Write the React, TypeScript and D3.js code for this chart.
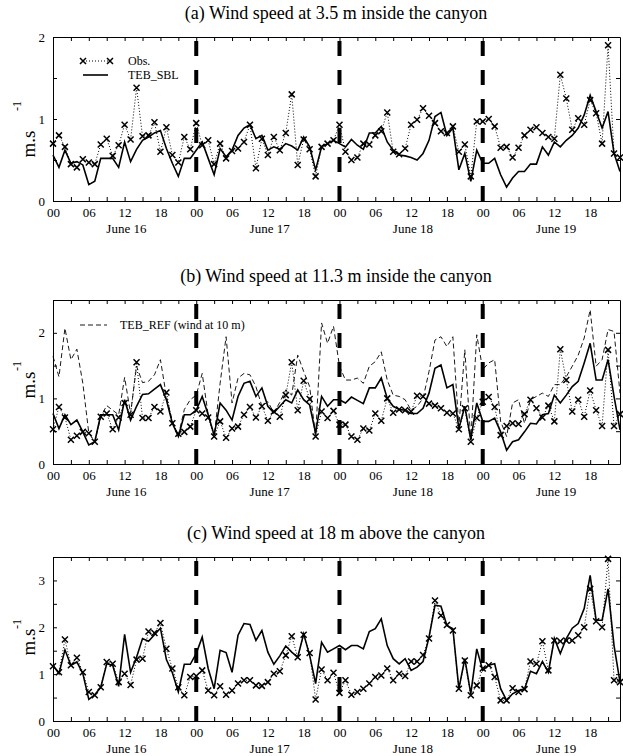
import React, { useEffect, useRef } from 'react';
import * as d3 from 'd3';

// hourly values, June 16 00h -> June 19 23h
const hours = d3.range(0, 96);
const dayLabels = ['June 16', 'June 17', 'June 18', 'June 19'];
const hourLabels = ['00', '06', '12', '18'];
const dayBreaks = [24, 48, 72];

// (a) 3.5 m inside the canyon
const obsA = [
  0.70, 0.80, 0.66, 0.45, 0.41, 0.51, 0.47, 0.45, 0.69, 0.76, 0.55, 0.68,
  0.93, 0.75, 1.38, 0.79, 0.80, 0.96, 0.60, 0.90, 0.56, 0.47, 0.78, 0.63,
  0.95, 0.68, 0.74, 0.45, 0.70, 0.52, 0.61, 0.64, 0.72, 0.93, 0.40, 0.76,
  0.56, 0.78, 0.62, 0.83, 1.30, 0.44, 0.75, 0.63, 0.30, 0.66, 0.70, 0.74,
  0.93, 0.60, 0.50, 0.53, 0.70, 0.69, 0.80, 0.85, 1.08, 0.60, 0.57, 0.64,
  0.93, 0.99, 1.13, 1.04, 0.95, 0.85, 0.83, 0.91, 0.60, 0.69, 0.30, 0.97,
  0.97, 1.00, 0.91, 0.65, 0.66, 0.53, 0.65, 0.80, 0.87, 0.90, 0.83, 0.78,
  0.76, 1.54, 1.25, 0.87, 1.01, 0.93, 1.23, 1.07, 0.70, 1.90, 0.58, 0.53,
];
const sblA = [
  0.56, 0.41, 0.62, 0.46, 0.48, 0.44, 0.20, 0.24, 0.52, 0.52, 0.52, 0.41,
  0.72, 0.48, 0.63, 0.74, 0.78, 0.83, 0.86, 0.64, 0.46, 0.30, 0.52, 0.52,
  0.62, 0.72, 0.52, 0.32, 0.64, 0.54, 0.62, 0.80, 0.89, 0.93, 0.76, 0.80,
  0.62, 0.66, 0.63, 0.70, 0.67, 0.62, 0.78, 0.66, 0.38, 0.66, 0.70, 0.74,
  0.70, 0.66, 0.75, 0.68, 0.63, 0.83, 0.83, 0.91, 0.72, 0.62, 0.56, 0.55,
  0.53, 0.50, 0.58, 0.74, 1.03, 1.08, 0.80, 0.89, 0.38, 0.58, 0.24, 0.62,
  0.46, 0.46, 0.52, 0.32, 0.17, 0.28, 0.36, 0.36, 0.45, 0.45, 0.66, 0.56,
  0.72, 0.66, 0.74, 0.80, 0.89, 1.05, 1.29, 1.09, 0.89, 1.09, 0.58, 0.36,
];

// (b) 11.3 m inside the canyon
const obsB = [
  0.53, 0.87, 0.71, 0.37, 0.43, 0.49, 0.47, 0.34, 0.72, 0.77, 0.53, 0.71,
  0.93, 0.75, 1.55, 0.70, 0.70, 0.87, 0.80, 1.09, 0.62, 0.46, 0.49, 0.57,
  0.82, 0.77, 0.71, 0.42, 0.65, 0.40, 0.54, 0.57, 0.75, 0.87, 0.71, 0.88,
  0.66, 0.80, 0.72, 1.05, 1.55, 0.82, 1.27, 0.99, 0.42, 0.80, 0.70, 0.81,
  0.60, 0.60, 0.42, 0.37, 0.54, 0.51, 0.77, 0.66, 1.00, 0.78, 0.83, 0.82,
  0.80, 1.04, 1.03, 0.92, 0.89, 0.85, 0.78, 0.77, 0.53, 0.85, 0.34, 0.70,
  0.95, 1.02, 0.87, 0.44, 0.58, 0.62, 0.61, 0.76, 0.98, 0.85, 0.71, 0.89,
  0.65, 1.75, 1.28, 0.80, 0.98, 0.72, 1.12, 0.82, 0.58, 1.74, 0.58, 0.76,
];
const sblB = [
  0.77, 0.54, 0.75, 0.60, 0.67, 0.49, 0.29, 0.34, 0.75, 0.75, 0.75, 0.52,
  0.98, 0.67, 0.88, 1.06, 1.07, 1.14, 1.21, 0.98, 0.62, 0.42, 0.75, 0.75,
  0.82, 1.03, 0.75, 0.44, 0.93, 0.82, 0.67, 1.03, 1.23, 1.26, 1.03, 1.16,
  0.88, 0.78, 0.88, 0.98, 0.93, 1.13, 0.98, 0.90, 0.47, 1.03, 0.88, 0.98,
  0.98, 0.93, 1.02, 0.97, 0.92, 1.16, 1.16, 1.31, 1.00, 0.88, 0.83, 0.82,
  0.77, 0.77, 0.85, 1.08, 1.46, 1.51, 1.16, 1.21, 0.54, 0.88, 0.37, 0.93,
  0.65, 0.65, 0.70, 0.49, 0.21, 0.34, 0.37, 0.49, 0.62, 0.61, 0.75, 0.77,
  1.05, 0.93, 1.05, 1.18, 1.26, 1.54, 1.84, 1.28, 1.28, 1.59, 1.03, 0.52,
];
const refB = [
  1.64, 1.33, 2.07, 1.59, 1.75, 1.23, 0.47, 0.34, 0.72, 0.89, 0.82, 0.75,
  1.32, 0.77, 1.49, 1.24, 1.26, 1.36, 1.59, 1.03, 0.65, 0.43, 0.83, 0.98,
  1.05, 1.38, 0.75, 0.42, 1.23, 1.94, 0.93, 1.31, 1.38, 1.36, 1.18, 0.88,
  0.95, 0.78, 0.94, 1.13, 1.05, 1.66, 1.41, 1.18, 0.42, 2.15, 1.84, 2.10,
  1.49, 1.28, 1.28, 1.31, 1.23, 1.49, 1.56, 1.71, 1.28, 1.05, 1.03, 0.98,
  0.82, 0.88, 1.00, 1.41, 1.89, 1.94, 1.79, 1.94, 0.57, 1.74, 0.37, 1.97,
  1.44, 1.54, 1.59, 0.65, 0.42, 0.93, 0.98, 0.62, 0.98, 1.03, 1.08, 1.03,
  1.21, 1.21, 1.33, 1.49, 1.66, 1.92, 2.35, 1.49, 1.59, 2.05, 2.02, 1.08,
];

// (c) 18 m above the canyon
const obsC = [
  1.17, 1.04, 1.74, 1.19, 1.35, 1.04, 0.62, 0.55, 0.72, 1.26, 1.22, 0.83,
  1.01, 0.77, 1.31, 1.33, 1.91, 1.88, 2.09, 1.54, 1.12, 0.72, 0.55, 0.94,
  0.96, 1.08, 0.65, 0.55, 0.74, 0.56, 0.65, 0.80, 0.87, 0.87, 0.76, 0.75,
  0.83, 1.01, 1.06, 1.40, 1.81, 1.36, 1.84, 1.45, 0.46, 1.10, 0.87, 1.03,
  0.60, 0.87, 0.56, 0.62, 0.69, 0.80, 0.94, 0.97, 1.12, 0.87, 1.01, 0.96,
  1.27, 1.27, 1.41, 1.76, 2.57, 2.25, 2.05, 1.93, 0.69, 1.29, 0.55, 0.76,
  1.12, 1.19, 0.94, 0.44, 0.44, 0.70, 0.62, 0.68, 1.27, 1.22, 1.70, 1.08,
  1.72, 1.70, 1.72, 1.72, 1.83, 2.00, 2.82, 2.13, 2.00, 3.46, 0.87, 0.83,
];
const sblC = [
  1.19, 1.01, 1.52, 1.19, 1.26, 1.01, 0.46, 0.56, 0.72, 1.22, 1.19, 0.74,
  1.85, 1.04, 1.36, 1.76, 1.70, 1.84, 1.98, 1.31, 1.03, 0.62, 1.21, 1.21,
  1.44, 1.79, 1.12, 0.69, 1.51, 1.46, 1.04, 1.83, 2.08, 2.06, 1.72, 1.93,
  1.47, 1.21, 1.39, 1.60, 1.47, 1.36, 1.86, 1.40, 0.80, 1.68, 1.47, 1.54,
  1.61, 1.52, 1.61, 1.61, 1.54, 1.91, 1.97, 2.18, 1.61, 1.33, 1.22, 1.33,
  1.08, 1.15, 1.27, 1.79, 2.47, 2.45, 2.04, 1.97, 0.69, 1.33, 0.58, 1.54,
  1.08, 1.19, 1.22, 0.69, 0.44, 0.58, 0.65, 0.68, 1.06, 1.01, 1.27, 1.04,
  1.76, 1.44, 1.76, 1.98, 2.08, 2.40, 3.11, 2.15, 2.15, 2.82, 1.61, 0.83,
];

const panels = [
  { title: '(a) Wind speed at 3.5 m inside the canyon', yMax: 2, top: 37, obs: obsA, sbl: sblA, ref: null, legend: 'sbl', ms: 144, sup: 106 },
  { title: '(b) Wind speed at 11.3 m inside the canyon', yMax: 2.5, top: 300, obs: obsB, sbl: sblB, ref: refB, legend: 'ref', ms: 385, sup: 366 },
  { title: '(c) Wind speed at 18 m above the canyon', yMax: 3.5, top: 557, obs: obsC, sbl: sblC, ref: null, legend: null, ms: 642, sup: 624 },
];

const W = 623, H = 756;
const left = 53, right = 620, ph = 164;
const serif = 'Liberation Serif';

function App() {
  const ref = useRef(null);

  useEffect(() => {
    const svg = d3.select(ref.current);
    svg.selectAll('*').remove();

    const x = d3.scaleLinear().domain([0, 95]).range([left, right]);
    const line = (y) => d3.line().x((d, i) => x(hours[i])).y(d => y(d));
    const cross = 'M-3,-3L3,3M-3,3L3,-3';

    panels.forEach(p => {
      const bottom = p.top + ph;
      const y = d3.scaleLinear().domain([0, p.yMax]).range([bottom, p.top]);
      const g = svg.append('g');

      g.append('text')
        .attr('x', 336).attr('y', p.top - 18)
        .attr('text-anchor', 'middle')
        .attr('font-family', serif).attr('font-size', 18)
        .text(p.title);

      // day separators
      dayBreaks.forEach(h => {
        g.append('line')
          .attr('x1', x(h)).attr('x2', x(h))
          .attr('y1', bottom).attr('y2', p.top)
          .attr('stroke', '#000').attr('stroke-width', 4)
          .attr('stroke-dasharray', '15,14');
      });

      // axes, ticks inward
      const xt = d3.range(0, 96, 3);
      const bx = g.append('g').attr('transform', `translate(0,${bottom})`)
        .call(d3.axisBottom(x).tickValues(xt).tickSize(-4).tickSizeOuter(0).tickPadding(7)
          .tickFormat(d => (d % 6 === 0 ? hourLabels[(d % 24) / 6] : '')));
      g.append('g').attr('transform', `translate(0,${p.top})`)
        .call(d3.axisTop(x).tickValues(xt).tickSize(-4).tickSizeOuter(0).tickFormat(() => ''));
      const yt = d3.range(0, p.yMax + 0.01, 0.5);
      const ly = g.append('g').attr('transform', `translate(${left},0)`)
        .call(d3.axisLeft(y).tickValues(yt).tickSize(-4).tickSizeOuter(0).tickPadding(8)
          .tickFormat(d => (Number.isInteger(d) ? String(d) : '')));
      g.append('g').attr('transform', `translate(${right},0)`)
        .call(d3.axisRight(y).tickValues(yt).tickSize(-4).tickSizeOuter(0).tickFormat(() => ''));
      [bx, ly].forEach(a => a.attr('font-family', serif).attr('font-size', 13)
        .selectAll('text').attr('fill', '#000'));
      g.selectAll('.domain').attr('stroke', '#000');
      g.selectAll('.tick line').attr('stroke', '#000');

      dayLabels.forEach((d, i) => {
        g.append('text')
          .attr('x', x(i * 24 + 12.3)).attr('y', bottom + 32)
          .attr('text-anchor', 'middle')
          .attr('font-family', serif).attr('font-size', 13)
          .text(d);
      });

      // y label
      g.append('text')
        .attr('transform', `translate(35,${p.ms}) rotate(-90)`)
        .attr('text-anchor', 'middle')
        .attr('font-family', serif).attr('font-size', 19)
        .text('m.s');
      g.append('text')
        .attr('transform', `translate(21,${p.sup}) rotate(-90)`)
        .attr('text-anchor', 'middle')
        .attr('font-family', serif).attr('font-size', 12)
        .text('-1');

      // series
      if (p.ref) {
        g.append('path').attr('d', line(y)(p.ref))
          .attr('fill', 'none').attr('stroke', '#000').attr('stroke-width', 0.9)
          .attr('stroke-dasharray', '5,3');
      }
      g.append('path').attr('d', line(y)(p.obs))
        .attr('fill', 'none').attr('stroke', '#000').attr('stroke-width', 1)
        .attr('stroke-dasharray', '1,2');
      g.append('path').attr('d', line(y)(p.sbl))
        .attr('fill', 'none').attr('stroke', '#000').attr('stroke-width', 1.6);
      g.selectAll('.obs').data(p.obs).enter().append('path')
        .attr('transform', (d, i) => `translate(${x(hours[i])},${y(d)})`)
        .attr('d', cross).attr('stroke', '#000').attr('stroke-width', 1.5);

      // legend
      const lt = (xx, yy, s) => g.append('text').attr('x', xx).attr('y', yy)
        .attr('font-family', serif).attr('font-size', 12).text(s);
      if (p.legend === 'sbl') {
        g.append('line').attr('x1', 83).attr('x2', 110).attr('y1', 61).attr('y2', 61)
          .attr('stroke', '#000').attr('stroke-dasharray', '1,2');
        [83, 110].forEach(xx => g.append('path').attr('transform', `translate(${xx},61)`)
          .attr('d', cross).attr('stroke', '#000').attr('stroke-width', 1.5));
        lt(128, 65, 'Obs.');
        g.append('line').attr('x1', 83).attr('x2', 108).attr('y1', 75).attr('y2', 75)
          .attr('stroke', '#000').attr('stroke-width', 1.6);
        lt(128, 79, 'TEB_SBL');
      } else if (p.legend === 'ref') {
        g.append('line').attr('x1', 80).attr('x2', 107).attr('y1', 325).attr('y2', 325)
          .attr('stroke', '#000').attr('stroke-width', 0.9).attr('stroke-dasharray', '5,3');
        lt(120, 329, 'TEB_REF (wind at 10 m)');
      }
    });
  }, []);

  return (
    <svg ref={ref} width={W} height={H}
      style={{ position: 'absolute', left: 0, top: 0, background: '#fff' }} />
  );
}

export default App;
